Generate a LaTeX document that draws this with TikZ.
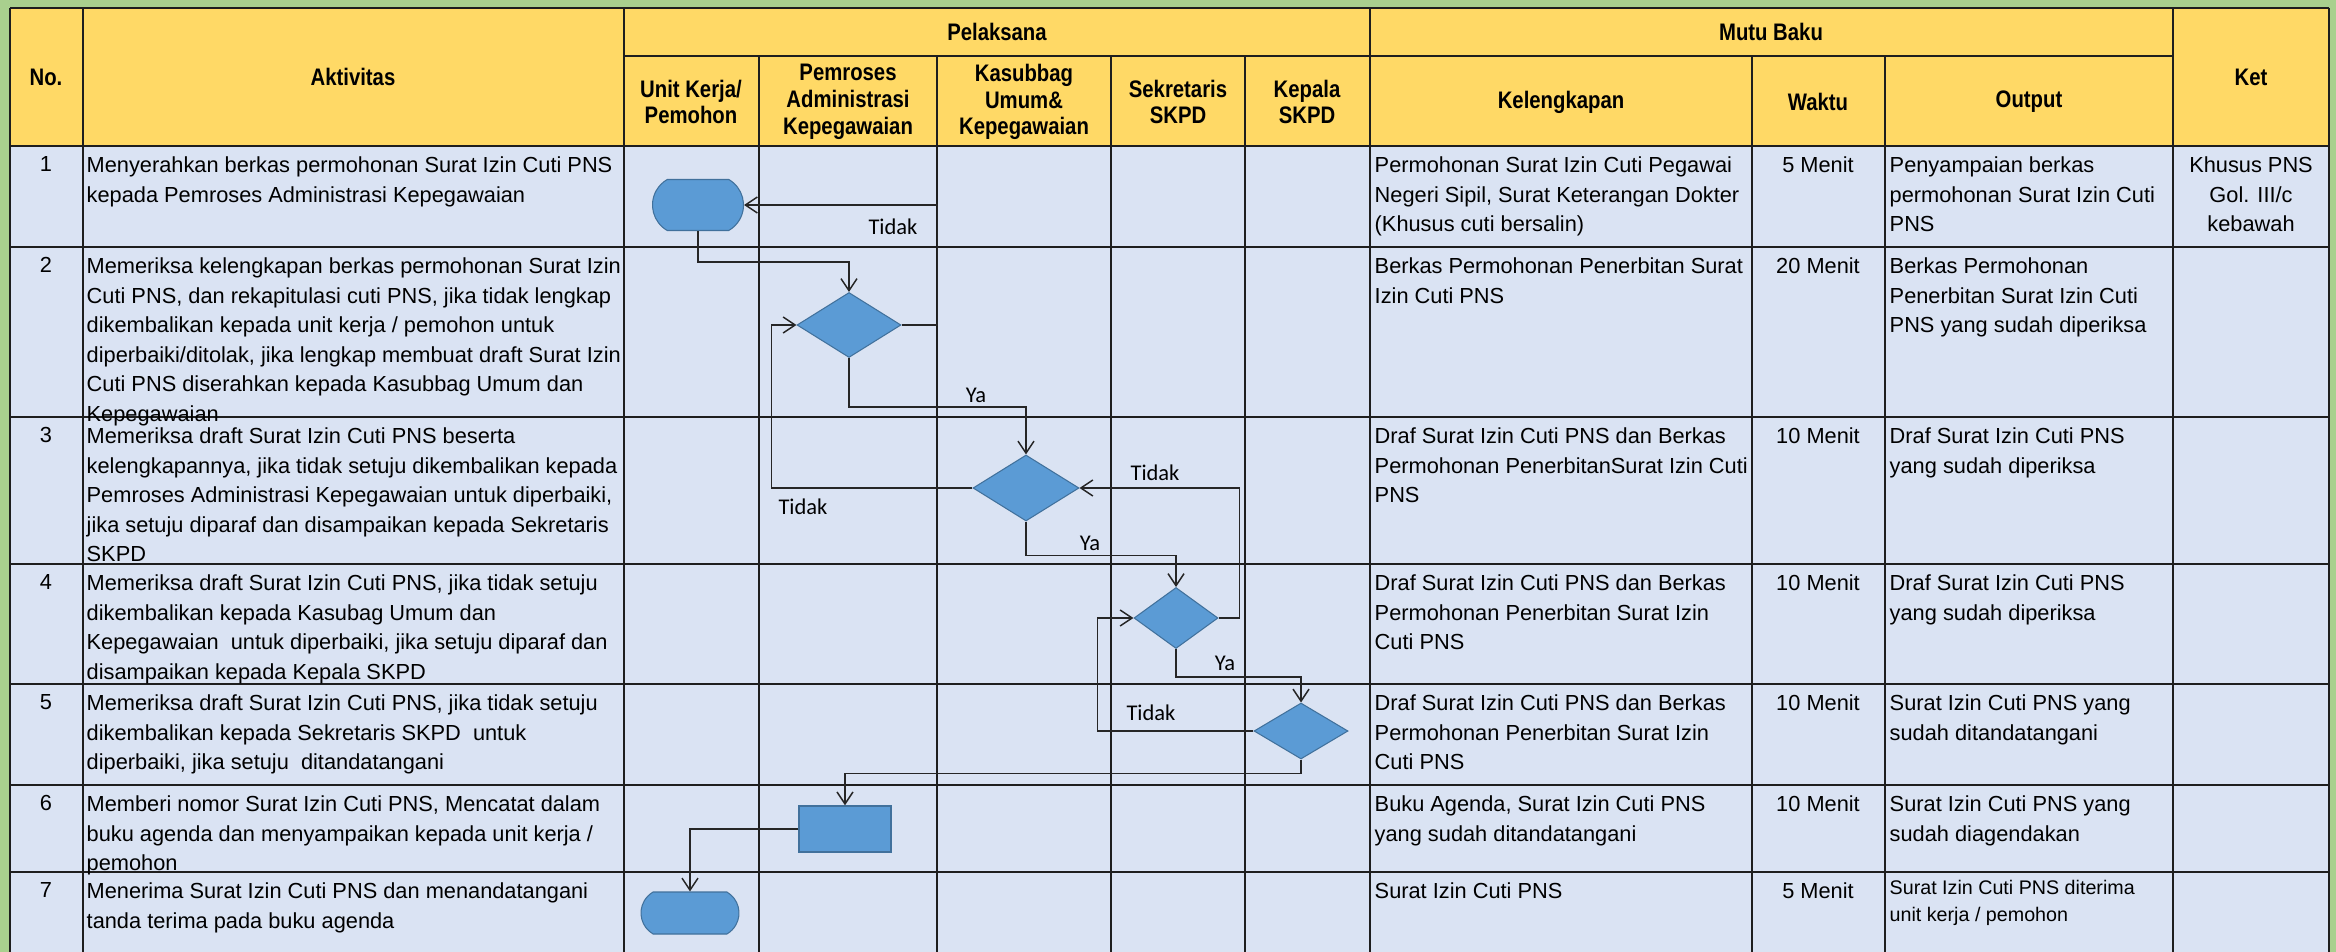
\documentclass[tikz,border=0pt]{standalone}
\usepackage{fontspec}
\usepackage{xcolor}
\usepackage{tikz}
\usetikzlibrary{%
  shapes.geometric,
  shapes.misc,
  arrows.meta,
  positioning,
  calc}
\newfontfamily\cellfont{Liberation Sans}
\newfontfamily\headfont{Liberation Sans}[FakeStretch=0.85]
\newfontfamily\lblfont{Carlito}
\definecolor{bandgreen}{HTML}{A9D08E}
\definecolor{headyellow}{HTML}{FFD966}
\definecolor{rowblue}{HTML}{DAE3F3}
\definecolor{shapeblue}{HTML}{5B9BD5}
\definecolor{shapeedge}{HTML}{41719C}
\definecolor{gridgray}{HTML}{1E1E1E}
\tikzset{
  %% Header cells
  headcell/.style={
    align=center, inner sep=0pt,
    font=\headfont\bfseries\fontsize{6.8}{7.6}\selectfont},
  %% Body cells, hanging from the top of the row
  celltext/.style={
    anchor=north west, align=left, inner sep=0pt,
    font=\cellfont\fontsize{6.2}{8.4}\selectfont},
  smalltext/.style={
    celltext, font=\cellfont\fontsize{5.6}{7.6}\selectfont},
  numcell/.style={
    celltext, anchor=north, align=center},
  %% Flow shapes
  termnode/.style={
    rounded rectangle, rounded rectangle arc length=120,
    draw=shapeedge, fill=shapeblue, line width=0.3pt,
    inner sep=0pt},
  decnode/.style={
    diamond, draw=shapeedge, fill=shapeblue, line width=0.3pt,
    inner sep=0pt},
  procnode/.style={
    rectangle, draw=shapeedge, fill=shapeblue, line width=0.4pt,
    inner sep=0pt},
  lbl/.style={
    inner sep=0pt, font=\lblfont\fontsize{6.4}{7}\selectfont},
  %% Lines
  rowline/.style={gridgray, line width=0.22mm},
  colline/.style={gridgray, line width=0.16mm},
  flowarrow/.style={
    -{Straight Barb[length=1.2mm, width=1.6mm]},
    black!85, line width=0.15mm},
}

\begin{document}
\begin{tikzpicture}[x={(0.1mm,0)}, y={(0,-0.1mm)}]
  \useasboundingbox (0,0) rectangle (2336,952);
  \fill[bandgreen] (0,0) rectangle (2336,952);
  \fill[headyellow] (10,8) rectangle (2329,146);
  \fill[rowblue] (10,146) rectangle (2329,952);

  %% grid
  \draw[rowline] (10,8) -- (2329,8);
  \draw[rowline] (624,56) -- (2173,56);
  \draw[rowline] (10,146) -- (2329,146);
  \draw[rowline] (10,247) -- (2329,247);
  \draw[rowline] (10,417) -- (2329,417);
  \draw[rowline] (10,564) -- (2329,564);
  \draw[rowline] (10,684) -- (2329,684);
  \draw[rowline] (10,785) -- (2329,785);
  \draw[rowline] (10,872) -- (2329,872);
  \draw[colline] (10,8) -- (10,952);
  \draw[colline] (83,8) -- (83,952);
  \draw[colline] (624,8) -- (624,952);
  \draw[colline] (759,56) -- (759,952);
  \draw[colline] (937,56) -- (937,952);
  \draw[colline] (1111,56) -- (1111,952);
  \draw[colline] (1245,56) -- (1245,952);
  \draw[colline] (1370,8) -- (1370,952);
  \draw[colline] (1752,56) -- (1752,952);
  \draw[colline] (1885,56) -- (1885,952);
  \draw[colline] (2173,8) -- (2173,952);
  \draw[colline] (2329,8) -- (2329,952);

  %% header
  \node[headcell] (hno)   at (46,77)    {No.};
  \node[headcell] (hakt)  at (353,77)   {Aktivitas};
  \node[headcell] (hpel)  at (997,32)   {Pelaksana};
  \node[headcell] (hmutu) at (1771,32)  {Mutu Baku};
  \node[headcell] (hket)  at (2251,77)  {Ket};
  \node[headcell] (hunit) at (691,102)  {Unit Kerja/\\Pemohon};
  \node[headcell] (hpem)  at (848,102)  {Pemroses\\Administrasi\\Kepegawaian};
  \node[headcell] (hkas)  at (1024,102) {Kasubbag\\Umum\&\\Kepegawaian};
  \node[headcell] (hsek)  at (1178,102) {Sekretaris\\SKPD};
  \node[headcell] (hkep)  at (1307,102) {Kepala\\SKPD};
  \node[headcell] (hkel)  at (1561,102) {Kelengkapan};
  \node[headcell] (hwak)  at (1818,102) {Waktu};
  \node[headcell] (hout)  at (2029,102) {Output};

  %% row 1
  \node[numcell]  (n1) at (46,156)   {1};
  \node[celltext] (a1) at (86,156)   {Menyerahkan berkas permohonan Surat Izin Cuti PNS\\kepada Pemroses Administrasi Kepegawaian};
  \node[celltext] (k1) at (1374,156) {Permohonan Surat Izin Cuti Pegawai\\Negeri Sipil, Surat Keterangan Dokter\\(Khusus cuti bersalin)};
  \node[numcell]  (w1) at (1818,156) {5 Menit};
  \node[celltext] (o1) at (1889,156) {Penyampaian berkas\\permohonan Surat Izin Cuti\\PNS};
  \node[numcell]  (r1) at (2251,156) {Khusus PNS\\Gol. III/c\\kebawah};

  %% row 2
  \node[numcell]  (n2) at (46,257)   {2};
  \node[celltext] (a2) at (86,257)   {Memeriksa kelengkapan berkas permohonan Surat Izin\\Cuti PNS, dan rekapitulasi cuti PNS, jika tidak lengkap\\dikembalikan kepada unit kerja / pemohon untuk\\diperbaiki/ditolak, jika lengkap membuat draft Surat Izin\\Cuti PNS diserahkan kepada Kasubbag Umum dan\\Kepegawaian};
  \node[celltext] (k2) at (1374,257) {Berkas Permohonan Penerbitan Surat\\Izin Cuti PNS};
  \node[numcell]  (w2) at (1818,257) {20 Menit};
  \node[celltext] (o2) at (1889,257) {Berkas Permohonan\\Penerbitan Surat Izin Cuti\\PNS yang sudah diperiksa};

  %% row 3
  \node[numcell]  (n3) at (46,427)   {3};
  \node[celltext] (a3) at (86,427)   {Memeriksa draft Surat Izin Cuti PNS beserta\\kelengkapannya, jika tidak setuju dikembalikan kepada\\Pemroses Administrasi Kepegawaian untuk diperbaiki,\\jika setuju diparaf dan disampaikan kepada Sekretaris\\SKPD};
  \node[celltext] (k3) at (1374,427) {Draf Surat Izin Cuti PNS dan Berkas\\Permohonan PenerbitanSurat Izin Cuti\\PNS};
  \node[numcell]  (w3) at (1818,427) {10 Menit};
  \node[celltext] (o3) at (1889,427) {Draf Surat Izin Cuti PNS\\yang sudah diperiksa};

  %% row 4
  \node[numcell]  (n4) at (46,574)   {4};
  \node[celltext] (a4) at (86,574)   {Memeriksa draft Surat Izin Cuti PNS, jika tidak setuju\\dikembalikan kepada Kasubag Umum dan\\Kepegawaian \ untuk diperbaiki, jika setuju diparaf dan\\disampaikan kepada Kepala SKPD};
  \node[celltext] (k4) at (1374,574) {Draf Surat Izin Cuti PNS dan Berkas\\Permohonan Penerbitan Surat Izin\\Cuti PNS};
  \node[numcell]  (w4) at (1818,574) {10 Menit};
  \node[celltext] (o4) at (1889,574) {Draf Surat Izin Cuti PNS\\yang sudah diperiksa};

  %% row 5
  \node[numcell]  (n5) at (46,694)   {5};
  \node[celltext] (a5) at (86,694)   {Memeriksa draft Surat Izin Cuti PNS, jika tidak setuju\\dikembalikan kepada Sekretaris SKPD \ untuk\\diperbaiki, jika setuju \ ditandatangani};
  \node[celltext] (k5) at (1374,694) {Draf Surat Izin Cuti PNS dan Berkas\\Permohonan Penerbitan Surat Izin\\Cuti PNS};
  \node[numcell]  (w5) at (1818,694) {10 Menit};
  \node[celltext] (o5) at (1889,694) {Surat Izin Cuti PNS yang\\sudah ditandatangani};

  %% row 6
  \node[numcell]  (n6) at (46,795)   {6};
  \node[celltext] (a6) at (86,795)   {Memberi nomor Surat Izin Cuti PNS, Mencatat dalam\\buku agenda dan menyampaikan kepada unit kerja /\\pemohon};
  \node[celltext] (k6) at (1374,795) {Buku Agenda, Surat Izin Cuti PNS\\yang sudah ditandatangani};
  \node[numcell]  (w6) at (1818,795) {10 Menit};
  \node[celltext] (o6) at (1889,795) {Surat Izin Cuti PNS yang\\sudah diagendakan};

  %% row 7
  \node[numcell]  (n7) at (46,882)   {7};
  \node[celltext] (a7) at (86,882)   {Menerima Surat Izin Cuti PNS dan menandatangani\\tanda terima pada buku agenda};
  \node[celltext] (k7) at (1374,882) {Surat Izin Cuti PNS};
  \node[numcell]  (w7) at (1818,882) {5 Menit};
  \node[smalltext] (o7) at (1889,880) {Surat Izin Cuti PNS diterima\\unit kerja / pemohon};

  %% flow shapes
  \node[termnode, minimum width=9.1mm, minimum height=5.1mm] (t1) at (698,205) {};
  \node[decnode, minimum width=10.4mm, minimum height=6.5mm] (d1) at (849,325) {};
  \node[decnode, minimum width=10.6mm, minimum height=6.6mm] (d2) at (1026,488) {};
  \node[decnode, minimum width=8.4mm, minimum height=6.1mm] (d3) at (1176,618) {};
  \node[decnode, minimum width=9.4mm, minimum height=5.6mm] (d4) at (1301,731) {};
  \node[procnode, minimum width=9.2mm, minimum height=4.6mm] (p6) at (845,829) {};
  \node[termnode, minimum width=9.8mm, minimum height=4.2mm] (t7) at (690,913) {};

  %% connectors
  \draw[flowarrow] (t1.south) -- ++(0,31) -| (d1.north);
  \draw[flowarrow] (d1.east) -- ++(36,0) |- (t1.east);
  \draw[flowarrow] (d1.south) -- ++(0,49) -| (d2.north);
  \draw[flowarrow] (d2.west) -- ++(-201,0) |- (d1.west);
  \draw[flowarrow] (d2.south) -- ++(0,34) -| (d3.north);
  \draw[flowarrow] (d3.east) -- ++(21,0) |- (d2.east);
  \draw[flowarrow] (d3.south) -- ++(0,28) -| (d4.north);
  \draw[flowarrow] (d4.west) -- ++(-156,0) |- (d3.west);
  \draw[flowarrow] (d4.south) -- ++(0,14) -| (p6.north);
  \draw[flowarrow] (p6.west) -| (t7.north);

  %% branch labels
  \node[lbl] (tdk1) at (893,227)  {Tidak};
  \node[lbl] (ya1)  at (976,395)  {Ya};
  \node[lbl] (tdk2) at (803,507)  {Tidak};
  \node[lbl] (ya2)  at (1090,543) {Ya};
  \node[lbl] (tdk3) at (1155,473) {Tidak};
  \node[lbl] (ya3)  at (1225,663) {Ya};
  \node[lbl] (tdk4) at (1151,713) {Tidak};
\end{tikzpicture}
\end{document}
